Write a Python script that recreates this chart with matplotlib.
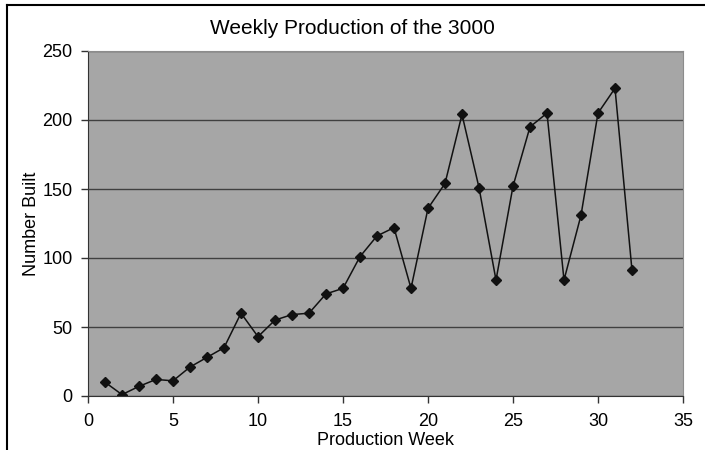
import matplotlib
matplotlib.use('Agg')
import matplotlib.pyplot as plt
from matplotlib.lines import Line2D

# Datos
semanas = list(range(1, 33))
construidos = [10, 1, 7, 12, 11, 21, 28, 35, 60, 43, 55, 59, 60, 74, 78, 101,
               116, 122, 78, 136, 154, 204, 151, 84, 152, 195, 205, 84, 131, 205,
               223, 91]
x_ticks = [0, 5, 10, 15, 20, 25, 30, 35]
y_ticks = [0, 50, 100, 150, 200, 250]

plt.rcParams['font.family'] = ['Liberation Sans', 'DejaVu Sans']

fig = plt.figure(figsize=(7.05, 4.5), dpi=100)
ax = fig.add_axes([88 / 705, 54 / 450, 595 / 705, 345 / 450])
ax.set_facecolor('#a6a6a6')

ax.plot(semanas, construidos, color='#111111', linewidth=1.1,
        marker='D', markersize=5.5, markerfacecolor='#111111', markeredgecolor='#111111')

ax.set_xlim(0, 35)
ax.set_ylim(0, 250)
ax.set_xticks(x_ticks)
ax.set_yticks(y_ticks)
ax.tick_params(axis='both', labelsize=13, direction='out', length=5, width=1, color='#333333')
ax.tick_params(axis='x', pad=7)
ax.tick_params(axis='y', pad=6)
ax.grid(True, axis='y', color='#404040', linewidth=1)
ax.set_axisbelow(True)

for s in ['top', 'right']:
    ax.spines[s].set_color('#8c8c8c')
for s in ['left', 'bottom']:
    ax.spines[s].set_color('#333333')

# Titulo centrado en la figura
fig.text(0.5, 1 - 28 / 450, 'Weekly Production of the 3000', fontsize=15,
         ha='center', va='center')
ax.set_xlabel('Production Week', fontsize=13, labelpad=2)
ax.set_ylabel('Number Built', fontsize=13, labelpad=2)

# Marco exterior
fig.add_artist(Line2D([7 / 705, 7 / 705], [0, 1 - 5 / 450], color='black', linewidth=1.5))
fig.add_artist(Line2D([7 / 705, 1], [1 - 5 / 450, 1 - 5 / 450], color='black', linewidth=1.5))

plt.savefig('out.png', dpi=100)
